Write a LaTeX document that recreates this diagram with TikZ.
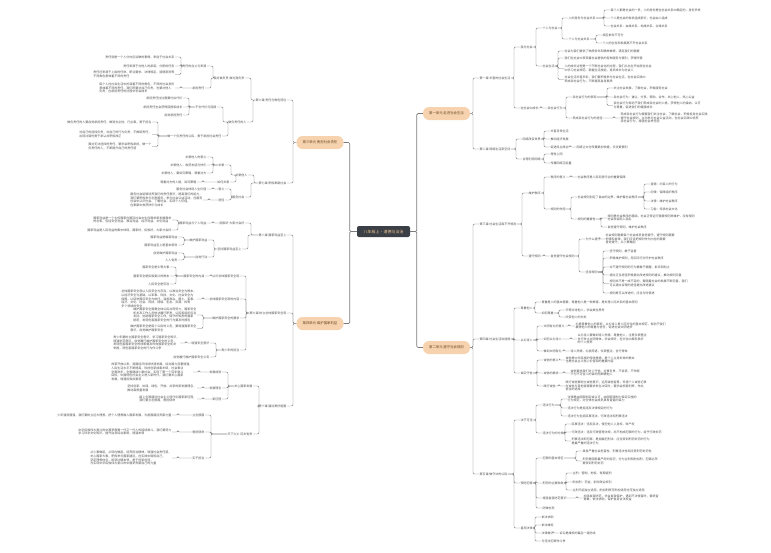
\documentclass[tikz,border=0pt]{standalone}
\usepackage{fontspec}
\usetikzlibrary{calc}
\newfontfamily\cjk{Noto Sans CJK SC}
\definecolor{rootfill}{HTML}{3B3F46}
\definecolor{roottext}{HTML}{F2C894}
\definecolor{unitfill}{HTML}{F6D3AE}
\definecolor{unittext}{HTML}{6A4A2C}
\definecolor{txtgray}{HTML}{525252}
\definecolor{linegray}{HTML}{7C7C7C}
\tikzstyle{root}=[rectangle, rounded corners=2pt, fill=rootfill, text=roottext, minimum width=53pt, minimum height=11pt, inner sep=0pt, font=\cjk\fontsize{4}{4}\selectfont]
\tikzstyle{unit}=[rectangle, rounded corners=6pt, fill=unitfill, text=unittext, minimum width=47pt, minimum height=13pt, inner sep=0pt, font=\cjk\fontsize{3.4}{3.4}\selectfont]
\tikzstyle{txt}=[inner sep=0.4pt, align=left, text=txtgray, font=\cjk\fontsize{3}{3.7}\selectfont]
\tikzstyle{rt}=[txt, anchor=west]
\tikzstyle{lt}=[txt, anchor=east]
\tikzstyle{tran}=[draw=linegray, line width=0.45pt, rounded corners=1.2pt]
\newcommand{\rlink}[3][]{\draw[tran,#1] let \p1=(#2.east), \p2=(#3.west) in (\p1) -- (\x2-6pt,\y1) |- (\p2);}
\newcommand{\llink}[3][]{\draw[tran,#1] let \p1=(#2.west), \p2=(#3.east) in (\p1) -- (\x2+6pt,\y1) |- (\p2);}

\begin{document}
\begin{tikzpicture}[x=1pt, y=-1pt]
\fill[white] (0,0) rectangle (771,552);

\node[root] (root) at (383.5,231.5) {八年级上·道德与法治};
\node[unit] (u1) at (446.5,113.5) {第一单元\ 走进社会生活};
\node[unit] (u2) at (446.5,347.5) {第二单元\ 遵守社会规则};
\node[unit] (u3) at (320,142.5) {第三单元\ 勇担社会责任};
\node[unit] (u4) at (320,323.5) {第四单元\ 维护国家利益};

% unit one
\node[rt] (L1) at (479,78) {第一课\ 丰富的社会生活};
\node[rt] (a1) at (520,47) {我与社会};
\node[rt] (a11) at (542,28) {个人与社会};
\node[rt] (a111) at (568,18) {人的身份与社会关系};
\node[rt] (a1111) at (610,10) {每个人都是社会的一员，人的身份是在社会关系中确定的，身份多样};
\node[rt] (a1112) at (610,18) {个人是社会的有机组成部分，社会由人组成};
\node[rt] (a1113) at (610,26) {社会关系：血缘关系、地缘关系、业缘关系};
\node[rt] (a112) at (568,39) {个人与社会关系};
\node[rt] (a1121) at (602,35) {相互依存不可分};
\node[rt] (a1122) at (602,43) {个人的生存和发展离不开社会关系};
\node[rt] (a12) at (542,66) {社会生活};
\node[rt] (a121) at (564,51) {社会为我们提供了物质条件和精神食粮，满足我们的需要};
\node[rt] (a122) at (564,58) {我们在社会中享受着社会提供的各种服务与便利，获得所需};
\node[rt] (a123) at (564,68.5) {人的成长过程是一个不断社会化的过程，我们从出生开始就在社会\\中学习社会规范、掌握生活技能，逐步成长为社会人};
\node[rt] (a124) at (564,79.5) {社会生活丰富多彩，我们要积极参与社会生活，在社会实践中\\养成亲社会行为，不断提高自身素质};
\node[rt] (a2) at (520,108) {在社会中成长};
\node[rt] (a21) at (547,108) {亲社会行为};
\node[rt] (a211) at (572,97) {亲社会行为的表现};
\node[rt] (a2111) at (613,88) {关注社会发展，了解社会，积极服务社会};
\node[rt] (a2112) at (613,97) {亲社会行为：谦让、分享、帮助、合作、关心他人、热心公益};
\node[rt] (a2113) at (613,105.5) {亲社会行为有助于我们养成亲社会的人格，获得他人的接纳、认可\\与尊重，促进我们的健康成长};
\node[rt] (a212) at (572,118) {养成亲社会行为的途径};
\node[rt] (a2121) at (620,118) {养成亲社会行为需要我们关注社会、了解社会，积极投身社会实践\\遵守社会规则，主动参与社会公益活动，在社会实践中培养\\亲社会行为，增强社会责任感};

\node[rt] (L2) at (479,149) {第二课\ 网络生活新空间};
\node[rt] (b1) at (522,139) {网络改变世界};
\node[rt] (b11) at (550,131) {丰富日常生活};
\node[rt] (b12) at (550,139) {推动经济发展};
\node[rt] (b13) at (550,147) {促进民主政治};
\node[rt] (b131) at (576,147) {网络让文化传播更加快捷，交流更便利};
\node[rt] (b2) at (522,159) {合理利用网络};
\node[rt] (b21) at (550,154) {理性上网};
\node[rt] (b22) at (550,163) {传播网络正能量};

% unit two
\node[rt] (L3) at (479,224) {第三课\ 社会生活离不开规则};
\node[rt] (c1) at (528,193) {维护秩序};
\node[rt] (c11) at (550,177) {秩序的意义};
\node[rt] (c111) at (577,177) {社会秩序是人民安居乐业的重要保障};
\node[rt] (c12) at (550,209) {规则的作用};
\node[rt] (c121) at (577,197) {社会规则划定了自由的边界，维护着社会秩序};
\node[rt] (c1211) at (650,184) {道德：约束人的行为};
\node[rt] (c1212) at (650,192) {纪律：保障组织秩序};
\node[rt] (c1213) at (650,201) {法律：维护社会秩序};
\node[rt] (c1214) at (650,209) {习俗：传承社会文化};
\node[rt] (c122) at (577,219) {规则的重要性};
\node[rt] (c1221) at (607,218) {规则是社会秩序的基础，社会正常运行需要规则来维护，没有规则\\社会就会陷入混乱};
\node[rt] (c1222) at (607,227) {自觉遵守规则，维护社会秩序};
\node[rt] (c2) at (528,256) {遵守规则};
\node[rt] (c21) at (550,256) {自觉遵守社会规则};
\node[rt] (c211) at (585,239) {为什么遵守};
\node[rt] (c2111) at (605,239) {社会规则需要每个社会成员自觉遵守，遵守规则需要\\他律和自律，我们应该把规则作为内在的需要\\自觉遵守，从小事做起};
\node[rt] (c212) at (585,272) {坚持规则};
\node[rt] (c2121) at (609,251) {坚守规则，敢于监督};
\node[rt] (c2122) at (609,258) {积极维护规则，用实际行动守护社会秩序};
\node[rt] (c2123) at (609,267) {对不遵守规则的行为要敢于提醒、批评和制止};
\node[rt] (c2124) at (609,275) {通过正当途径积极提出改进规则的建议，推动规则完善};
\node[rt] (c2125) at (609,283.5) {规则并不是一成不变的，要随着社会的发展不断完善，我们\\可以通过合理的途径提出改进建议};
\node[rt] (c2126) at (609,293) {规则是可以改进的，应当与时俱进};

\node[rt] (L4) at (479,339) {第四课\ 社会生活讲道德};
\node[rt] (d1) at (520,308) {尊重他人};
\node[rt] (d11) at (541,302) {尊重是人的基本需要，尊重他人是一种美德，是处理人际关系的基本原则};
\node[rt] (d12) at (541,313) {如何尊重};
\node[rt] (d121) at (565,310) {平等对待他人，学会换位思考};
\node[rt] (d122) at (565,317) {欣赏他人的长处};
\node[rt] (d2) at (520,340) {以礼待人};
\node[rt] (d21) at (543,326) {文明有礼的意义};
\node[rt] (d211) at (575,326) {礼是尊重他人的表现，以礼待人是人际交往的基本规范，有助于我们\\赢得他人的尊重与信任，促进社会文明进步};
\node[rt] (d22) at (543,339) {如何以礼待人};
\node[rt] (d221) at (577,339) {以礼待人要做到待人热情、尊重他人，注意仪表整洁\\言行举止文明得体，学会倾听，在交往中展现良好\\的个人修养};
\node[rt] (d23) at (543,351) {做到文明有礼};
\node[rt] (d231) at (570,351) {待人热情，礼貌用语，仪表整洁，言行得体};
\node[rt] (d3) at (520,373) {诚实守信};
\node[rt] (d31) at (543,360) {诚信的意义};
\node[rt] (d311) at (565,360) {诚信是中华民族的传统美德，是个人立身处世的根本\\也是社会主义核心价值观的重要内容};
\node[rt] (d32) at (543,373) {诚信的要求};
\node[rt] (d321) at (570,373) {诚信要求我们对人守信、对事负责、不说谎、不作假\\不为不可告人的目的而欺瞒他人};
\node[rt] (d33) at (543,386) {践行诚信};
\node[rt] (d331) at (565,386) {践行诚信要树立诚信意识，运用诚信智慧，珍惜个人诚信记录\\在诚信与其他道德要求发生冲突时，要学会权衡利弊，作出\\恰当的选择};

\node[rt] (L5) at (479,474) {第五课\ 做守法的公民};
\node[rt] (e1) at (520,420) {法不可违};
\node[rt] (e11) at (542,405) {违法行为};
\node[rt] (e111) at (567,399) {法律是由国家制定或认可，由国家强制力保证实施的\\行为规范，对全体社会成员具有普遍约束力};
\node[rt] (e112) at (567,408) {违法行为是指违反法律规定的行为};
\node[rt] (e113) at (567,416) {违法行为包括民事违法、行政违法和刑事违法};
\node[rt] (e12) at (542,433) {违法行为的分类};
\node[rt] (e121) at (571,424) {民事违法：违反民法，侵犯他人人身权、财产权};
\node[rt] (e122) at (571,432) {行政违法：违反行政管理法规，尚不构成犯罪的行为，给予行政处罚};
\node[rt] (e123) at (571,441) {刑事违法即犯罪，是指触犯刑法、应当受到刑罚处罚的行为\\是最严重的违法行为};
\node[rt] (e2) at (520,483) {预防犯罪};
\node[rt] (e21) at (542,458) {犯罪的基本特征};
\node[rt] (e211) at (582,451) {具有严重社会危害性、刑事违法性和应受刑罚处罚性};
\node[rt] (e212) at (582,461) {刑罚是国家最严厉的惩罚，分为主刑和附加刑，犯罪必然\\要受到刑罚处罚};
\node[rt] (e22) at (542,483) {刑罚的主要种类};
\node[rt] (e221) at (572,473) {主刑：管制、拘役、有期徒刑};
\node[rt] (e222) at (572,482) {附加刑：罚金、剥夺政治权利};
\node[rt] (e223) at (572,490) {主刑只能独立适用，附加刑既可附加适用也可独立适用};
\node[rt] (e23) at (542,498) {增强自我防范意识};
\node[rt] (e231) at (583,498) {加强自我防范，学会自我保护，遇到不法侵害时，要机智\\勇敢，依法求助，保护自身合法权益};
\node[rt] (e24) at (542,508) {防微杜渐};
\node[rt] (e3) at (520,528) {善用法律};
\node[rt] (e31) at (541,517) {依法求助};
\node[rt] (e32) at (541,525) {依法维权};
\node[rt] (e33) at (541,533) {法律救济};
\node[rt] (e331) at (559,533) {诉讼是维权的最后一道防线};
\node[rt] (e34) at (541,541) {与违法犯罪作斗争};

% unit three
\node[lt] (L6) at (287,100) {第六课\ 责任与角色同在};
\node[lt] (f1) at (245,78) {我对谁负责\ 谁对我负责};
\node[lt] (f11) at (207,66) {责任的含义与来源};
\node[lt] (f111) at (175,57) {责任就是一个人分内应该做的事情，来自于社会关系};
\node[lt] (f112) at (175,66) {责任来源于对他人的承诺、分配的任务};
\node[lt] (f113) at (175,74.5) {责任还来源于上级的任命、职业要求、法律规定、道德原则等\\不同角色意味着不同的责任};
\node[lt] (f12) at (205,88) {承担责任};
\node[lt] (f121) at (175,88) {每个人在社会生活中扮演着不同的角色，不同的社会身份\\意味着不同的责任，我们既要对自己负责，也要对他人\\负责，在承担责任的过程中学会成长};
\node[lt] (f2) at (247,122) {做负责任的人};
\node[lt] (f21) at (217,107) {不言代价与回报};
\node[lt] (f211) at (183,98) {承担责任往往需要付出代价};
\node[lt] (f212) at (183,107) {承担责任也会获得回报和成长};
\node[lt] (f213) at (183,115) {自觉承担责任};
\node[lt] (f22) at (222,136) {做一个负责任的公民，勇于承担社会责任};
\node[lt] (f221) at (152,122) {做负责任的人要自觉承担责任，做到言必信、行必果，勇于担当};
\node[lt] (f222) at (152,134.5) {对自己的选择负责，对自己的行为负责，不推卸责任，\\出现过错时勇于承认并积极改正};
\node[lt] (f223) at (152,146.5) {面对无法选择的责任，要学会积极承担，做一个\\负责任的人，不断提升自己的责任感};

\node[lt] (L7) at (287,183) {第七课\ 积极奉献社会};
\node[lt] (g1) at (248,175) {关爱他人};
\node[lt] (g11) at (225,165) {关爱};
\node[lt] (g111) at (207,157) {关爱他人的意义};
\node[lt] (g112) at (207,165) {关爱他人，收获友谊与快乐};
\node[lt] (g113) at (207,173) {关爱他人，要讲究策略，尊重对方};
\node[lt] (g12) at (230,182) {如何关爱};
\node[lt] (g121) at (197,182) {尊重对方的人格，讲究策略};
\node[lt] (g2) at (245,197) {服务社会};
\node[lt] (g21) at (225,189) {意义};
\node[lt] (g211) at (207,189) {服务社会体现人生价值};
\node[lt] (g22) at (225,200) {途径};
\node[lt] (g221) at (203,200) {服务社会能够培养我们的责任意识，提高我们的能力，\\我们要积极参与志愿服务，参与社会公益活动，在服务\\社会中认识社会、了解社会，实现个人价值，\\在奉献中收获快乐与成长};

% unit four
\node[lt] (L8) at (287,235) {第八课\ 国家利益至上};
\node[lt] (h1) at (245,223) {国家好\ 大家才会好};
\node[lt] (h11) at (207,223) {国家利益与个人利益};
\node[lt] (h111) at (172,220) {国家利益是一个主权国家在国际社会中生存需求和发展需求\\的总和，包括安全利益、政治利益、经济利益、文化利益};
\node[lt] (h112) at (172,230) {国家利益是人民利益的集中体现，国家好，民族好，大家才会好};
\node[lt] (h2) at (242,249) {坚持国家利益至上};
\node[lt] (h21) at (208,240) {维护国家利益};
\node[lt] (h211) at (178,237) {国家利益是最高利益};
\node[lt] (h212) at (178,245) {国家利益至上是基本原则};
\node[lt] (h22) at (208,257) {自觉行动};
\node[lt] (h221) at (178,253) {自觉维护国家利益};
\node[lt] (h222) at (178,260) {人人有责};

\node[lt] (L9) at (287,313) {第九课\ 树立总体国家安全观};
\node[lt] (i1) at (240,276) {认识总体国家安全观};
\node[lt] (i11) at (205,276) {国家安全的内涵};
\node[lt] (i111) at (170,267) {国家安全是头等大事};
\node[lt] (i112) at (170,276) {国家安全是民族复兴的根本};
\node[lt] (i113) at (170,284) {人民安全是宗旨};
\node[lt] (i2) at (240,299) {总体国家安全观的内容};
\node[lt] (i21) at (197,299) {总体国家安全观以人民安全为宗旨，以政治安全为根本，\\以经济安全为基础，以军事、科技、文化、社会安全为\\保障，以促进国际安全为依托，涵盖政治、国土、军事、\\经济、文化、社会、科技、网络、生态、资源、核等\\多个领域的安全};
\node[lt] (i3) at (240,318) {维护国家安全的要求};
\node[lt] (i31) at (197,315) {维护国家安全需要全体公民共同努力，国家安全\\机关及工作人员依法履行职责，公民和组织应当\\支持、协助国家安全工作，保守所知悉的国家\\秘密，发现危害国家安全的行为要及时报告};
\node[lt] (i32) at (197,328.5) {维护国家安全是每个公民的义务，要增强国家安全\\意识，自觉维护国家安全};
\node[lt] (i4) at (240,350) {青少年的担当};
\node[lt] (i41) at (210,343) {增强安全意识};
\node[lt] (i411) at (180,343) {青少年要树立国家安全意识，学习国家安全知识，\\增强防范意识，自觉履行维护国家安全的义务，\\发现危害国家安全的线索要及时向国家安全机关\\举报，同危害国家安全的行为作斗争};
\node[lt] (i42) at (210,357) {自觉履行维护国家安全义务};

\node[lt] (L10) at (287,406) {第十课\ 建设美好祖国};
\node[lt] (j1) at (253,386) {关心国家发展};
\node[lt] (j11) at (222,372) {发展成就};
\node[lt] (j111) at (193,372) {改革开放以来，我国经济持续快速发展，综合国力显著增强，\\人民生活水平不断提高，科技创新成果丰硕，社会事业\\全面进步，全面建成小康社会，实现了第一个百年奋斗\\目标，中国特色社会主义进入新时代，我们要关心国家\\发展，增强民族自豪感};
\node[lt] (j12) at (222,388) {发展理念};
\node[lt] (j121) at (197,388) {坚持创新、协调、绿色、开放、共享的新发展理念，\\推动高质量发展};
\node[lt] (j13) at (222,399) {新征程};
\node[lt] (j131) at (197,399) {踏上全面建设社会主义现代化国家新征程，\\我们要立志报国，勇担使命};
\node[lt] (j2) at (253,434) {天下兴亡\ 匹夫有责};
\node[lt] (j21) at (205,415) {立志报国};
\node[lt] (j211) at (172,415) {少年强则国强，我们要树立远大理想，把个人理想融入国家发展，为祖国建设贡献力量};
\node[lt] (j22) at (205,432) {勇担使命};
\node[lt] (j221) at (172,432) {中华民族伟大复兴的中国梦需要一代又一代人的接续奋斗，我们要努力\\学习科学文化知识，提升自身综合素质，增强本领};
\node[lt] (j23) at (205,458) {实干担当};
\node[lt] (j231) at (172,458) {从小事做起，从现在做起，培养担当精神，增强社会责任感，\\关心国家大事，积极参与国家建设，在实践中锻炼自己，\\坚定理想信念，练就过硬本领，勇于创新创造，\\为实现中华民族伟大复兴的中国梦贡献自己的力量};

% connectors
\foreach \c in {u1,u2} {\rlink[line width=0.7pt]{root}{\c}}
\foreach \c in {u3,u4} {\llink[line width=0.7pt]{root}{\c}}

\foreach \c in {L1,L2} {\rlink{u1}{\c}}
\foreach \c in {a1,a2} {\rlink{L1}{\c}}
\foreach \c in {a11,a12} {\rlink{a1}{\c}}
\foreach \c in {a111,a112} {\rlink{a11}{\c}}
\foreach \c in {a1111,a1112,a1113} {\rlink{a111}{\c}}
\foreach \c in {a1121,a1122} {\rlink{a112}{\c}}
\foreach \c in {a121,a122,a123,a124} {\rlink{a12}{\c}}
\rlink{a2}{a21}
\foreach \c in {a211,a212} {\rlink{a21}{\c}}
\foreach \c in {a2111,a2112,a2113} {\rlink{a211}{\c}}
\rlink{a212}{a2121}
\foreach \c in {b1,b2} {\rlink{L2}{\c}}
\foreach \c in {b11,b12,b13} {\rlink{b1}{\c}}
\rlink{b13}{b131}
\foreach \c in {b21,b22} {\rlink{b2}{\c}}

\foreach \c in {L3,L4,L5} {\rlink{u2}{\c}}
\foreach \c in {c1,c2} {\rlink{L3}{\c}}
\foreach \c in {c11,c12} {\rlink{c1}{\c}}
\rlink{c11}{c111}
\foreach \c in {c121,c122} {\rlink{c12}{\c}}
\foreach \c in {c1211,c1212,c1213,c1214} {\rlink{c121}{\c}}
\foreach \c in {c1221,c1222} {\rlink{c122}{\c}}
\rlink{c2}{c21}
\foreach \c in {c211,c212} {\rlink{c21}{\c}}
\rlink{c211}{c2111}
\foreach \c in {c2121,c2122,c2123,c2124,c2125,c2126} {\rlink{c212}{\c}}
\foreach \c in {d1,d2,d3} {\rlink{L4}{\c}}
\foreach \c in {d11,d12} {\rlink{d1}{\c}}
\foreach \c in {d121,d122} {\rlink{d12}{\c}}
\foreach \c in {d21,d22,d23} {\rlink{d2}{\c}}
\rlink{d21}{d211}
\rlink{d22}{d221}
\rlink{d23}{d231}
\foreach \c in {d31,d32,d33} {\rlink{d3}{\c}}
\rlink{d31}{d311}
\rlink{d32}{d321}
\rlink{d33}{d331}
\foreach \c in {e1,e2,e3} {\rlink{L5}{\c}}
\foreach \c in {e11,e12} {\rlink{e1}{\c}}
\foreach \c in {e111,e112,e113} {\rlink{e11}{\c}}
\foreach \c in {e121,e122,e123} {\rlink{e12}{\c}}
\foreach \c in {e21,e22,e23,e24} {\rlink{e2}{\c}}
\foreach \c in {e211,e212} {\rlink{e21}{\c}}
\foreach \c in {e221,e222,e223} {\rlink{e22}{\c}}
\rlink{e23}{e231}
\foreach \c in {e31,e32,e33,e34} {\rlink{e3}{\c}}
\rlink{e33}{e331}

\foreach \c in {L6,L7} {\llink{u3}{\c}}
\foreach \c in {f1,f2} {\llink{L6}{\c}}
\foreach \c in {f11,f12} {\llink{f1}{\c}}
\foreach \c in {f111,f112,f113} {\llink{f11}{\c}}
\llink{f12}{f121}
\foreach \c in {f21,f22} {\llink{f2}{\c}}
\foreach \c in {f211,f212,f213} {\llink{f21}{\c}}
\foreach \c in {f221,f222,f223} {\llink{f22}{\c}}
\foreach \c in {g1,g2} {\llink{L7}{\c}}
\foreach \c in {g11,g12} {\llink{g1}{\c}}
\foreach \c in {g111,g112,g113} {\llink{g11}{\c}}
\llink{g12}{g121}
\foreach \c in {g21,g22} {\llink{g2}{\c}}
\llink{g21}{g211}
\llink{g22}{g221}

\foreach \c in {L8,L9,L10} {\llink{u4}{\c}}
\foreach \c in {h1,h2} {\llink{L8}{\c}}
\llink{h1}{h11}
\foreach \c in {h111,h112} {\llink{h11}{\c}}
\foreach \c in {h21,h22} {\llink{h2}{\c}}
\foreach \c in {h211,h212} {\llink{h21}{\c}}
\foreach \c in {h221,h222} {\llink{h22}{\c}}
\foreach \c in {i1,i2,i3,i4} {\llink{L9}{\c}}
\llink{i1}{i11}
\foreach \c in {i111,i112,i113} {\llink{i11}{\c}}
\llink{i2}{i21}
\foreach \c in {i31,i32} {\llink{i3}{\c}}
\foreach \c in {i41,i42} {\llink{i4}{\c}}
\llink{i41}{i411}
\foreach \c in {j1,j2} {\llink{L10}{\c}}
\foreach \c in {j11,j12,j13} {\llink{j1}{\c}}
\llink{j11}{j111}
\llink{j12}{j121}
\llink{j13}{j131}
\foreach \c in {j21,j22,j23} {\llink{j2}{\c}}
\llink{j21}{j211}
\llink{j22}{j221}
\llink{j23}{j231}

\end{tikzpicture}
\end{document}
